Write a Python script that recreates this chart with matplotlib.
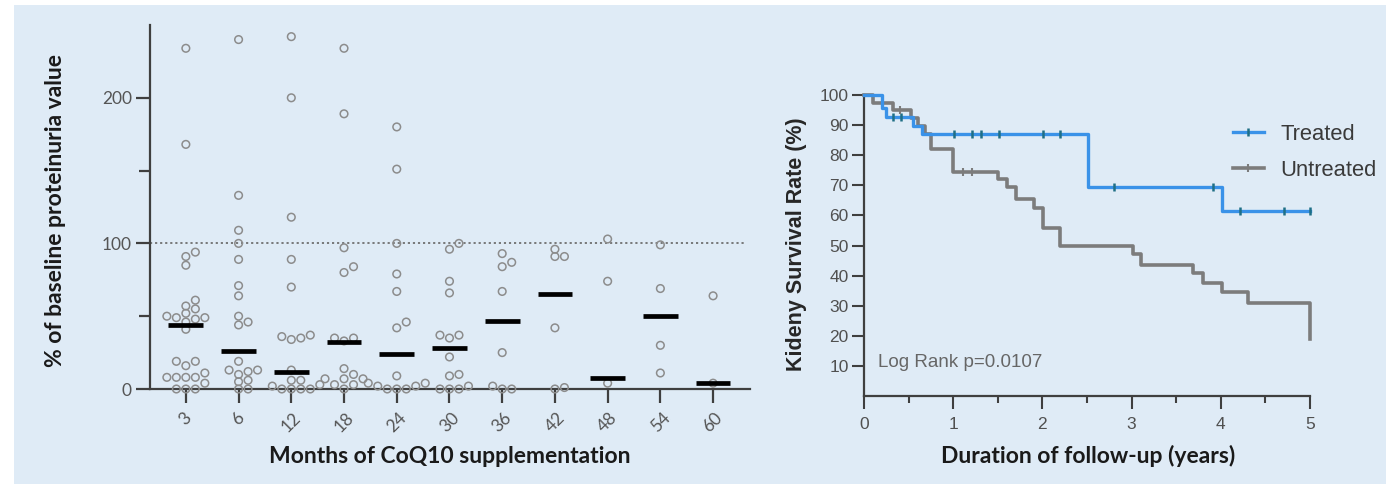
import numpy as np
import matplotlib
matplotlib.use("Agg")
import matplotlib.pyplot as plt
from matplotlib.patches import Rectangle
from matplotlib.lines import Line2D
from matplotlib.ticker import MultipleLocator, FixedLocator

# ---------------- data: proteinuria relative to baseline (%) ----------------
months = ["3", "6", "12", "18", "24", "30", "36", "42", "48", "54", "60"]
m03 = [234, 168, 94, 91, 85, 61, 57, 55, 52, 50, 49, 49, 48, 46, 41, 19, 19, 16, 11, 8, 8, 8, 8, 4, 0, 0, 0]
m06 = [240, 133, 109, 100, 89, 71, 64, 50, 46, 44, 19, 13, 13, 12, 10, 6, 5, 0, 0]
m12 = [242, 200, 118, 89, 70, 37, 36, 35, 34, 13, 6, 6, 3, 2, 0, 0, 0, 0]
m18 = [234, 189, 97, 84, 80, 35, 35, 33, 14, 10, 7, 7, 7, 3, 3, 0]
m24 = [180, 151, 100, 79, 67, 46, 42, 9, 4, 4, 2, 2, 0, 0, 0]
m30 = [100, 96, 74, 66, 37, 37, 35, 22, 10, 9, 2, 0, 0, 0]
m36 = [93, 87, 84, 67, 25, 2, 0, 0]
m42 = [96, 91, 91, 42, 1, 0]
m48 = [103, 74, 4]
m54 = [99, 69, 30, 11]
m60 = [64, 4]
medians = [44, 26, 12, 32, 24, 28, 46.5, 65.5, 7.5, 50, 4.2]

# ---------------- data: kidney survival (Kaplan-Meier) ----------------
t_treated = [0, 0.20, 0.25, 0.55, 0.65, 2.51, 4.01, 5.0]
s_treated = [100, 95.7, 92.6, 89.8, 86.9, 69.5, 61.6, 61.6]
cens_treated = [0.33, 0.41, 1.01, 1.21, 1.31, 1.51, 2.01, 2.20, 2.80, 3.91, 4.21, 4.71, 5.0]

t_untreated = [0, 0.10, 0.33, 0.53, 0.60, 0.68, 0.75, 1.00, 1.50, 1.60, 1.70, 1.91, 2.01,
               2.20, 3.02, 3.11, 3.69, 3.80, 4.01, 4.30, 5.0]
s_untreated = [100, 97.5, 95.0, 92.3, 89.6, 86.9, 82.1, 74.5, 72.0, 69.5, 65.6, 62.5, 55.9,
               49.9, 47.1, 43.5, 40.7, 37.6, 34.6, 30.9, 19.0]
cens_untreated = [0.40, 1.11, 1.21]

# ---------------- styling ----------------
BG = "#dfebf6"
SPINE = "#3f3f3f"
CIRCLE = "#8c8c8c"
BLUE = "#3a92e8"
TEAL = "#1f6f86"
GREY = "#7c7c7c"

fig = plt.figure(figsize=(13.86, 4.84), dpi=100, facecolor="white")
fig.patches.append(Rectangle((14 / 1386, 0), 1 - 14 / 1386, 1 - 5 / 484,
                             transform=fig.transFigure, facecolor=BG,
                             edgecolor="none", zorder=-10))

# =============== left panel: column scatter ===============
ax = fig.add_axes([150 / 1386, 95 / 484, 600 / 1386, 364 / 484])
ax.set_facecolor("none")
ax.set_xlim(-0.68, 10.7)
ax.set_ylim(0, 250)

groups = [m03, m06, m12, m18, m24, m30, m36, m42, m48, m54, m60]


def swarm(ax, xc, values, step_px=9.5, min_dist=7.0):
    """Spread points sideways so open circles do not pile up."""
    vals = np.asarray(values, dtype=float)
    px_x = ax.transData.transform((1, 0))[0] - ax.transData.transform((0, 0))[0]
    y_disp = ax.transData.transform(np.column_stack([np.full(len(vals), xc), vals]))[:, 1]
    order = np.argsort(y_disp)
    placed = []
    offs = np.zeros(len(vals))
    for i in order:
        for k in range(0, 20):
            cands = [0] if k == 0 else [k, -k]
            ok = None
            for c in cands:
                xo = c * step_px
                if all(np.hypot(xo - px, y_disp[i] - py) >= min_dist for px, py in placed):
                    ok = xo
                    break
            if ok is not None:
                placed.append((ok, y_disp[i]))
                offs[i] = ok / px_x
                break
    return xc + offs, vals


for gi, vals in enumerate(groups):
    xs, ys = swarm(ax, gi, vals)
    ax.scatter(xs, ys, s=30, facecolors="none", edgecolors=CIRCLE,
               linewidths=1.1, zorder=3, clip_on=False)

xpos = np.arange(len(months))
ax.hlines(medians, xpos - 0.33, xpos + 0.33, colors="black", linewidth=3.4, zorder=4)
ax.axhline(100, xmin=0, xmax=0.99, color="#6f6f6f", linewidth=1.3,
           linestyle=(0, (1.2, 1.6)), zorder=2)

for s in ["top", "right"]:
    ax.spines[s].set_visible(False)
for s in ["left", "bottom"]:
    ax.spines[s].set_color(SPINE)
    ax.spines[s].set_linewidth(1.6)

ax.set_xticks(xpos)
ax.set_xticklabels(months, rotation=45, ha="center", fontsize=12.5,
                   color="#555555", family="Lato")
ax.yaxis.set_major_locator(FixedLocator([0, 100, 200]))
ax.yaxis.set_minor_locator(FixedLocator([50, 150]))
ax.set_yticklabels(["0", "100", "200"], fontsize=12.5, color="#555555", family="Lato")
ax.tick_params(axis="both", which="major", length=10, width=1.6, color=SPINE, pad=3)
ax.tick_params(axis="y", which="minor", length=8, width=1.6, color=SPINE)
ax.tick_params(axis="x", pad=5)

ax.set_ylabel("% of baseline proteinuria value", fontsize=16.5, fontweight="bold",
              family="Lato", color="#1a1a1a")
ax.yaxis.set_label_coords(-84 / 600, 0.49)
ax.set_xlabel("Months of CoQ10 supplementation", fontsize=16.5, fontweight="bold",
              family="Lato", color="#1a1a1a")
ax.xaxis.set_label_coords(300 / 600, -57 / 364)

# =============== right panel: survival curves ===============
ax2 = fig.add_axes([864 / 1386, 88 / 484, 446 / 1386, 301 / 484])
ax2.set_facecolor("none")
ax2.set_xlim(0, 5)
ax2.set_ylim(0, 100)


def surv_at(t_arr, s_arr, times):
    idx = np.searchsorted(np.asarray(t_arr), np.asarray(times), side="right") - 1
    return np.asarray(s_arr)[idx]


ax2.step(t_treated, s_treated, where="post", color=BLUE, linewidth=2.4, zorder=4,
         clip_on=False)
ax2.step(t_untreated, s_untreated, where="post", color=GREY, linewidth=2.6, zorder=3,
         clip_on=False)
ax2.plot(cens_treated, surv_at(t_treated, s_treated, cens_treated), linestyle="none",
         marker="|", markersize=6, markeredgewidth=1.8, color=TEAL, zorder=5, clip_on=False)
ax2.plot(cens_untreated, surv_at(t_untreated, s_untreated, cens_untreated), linestyle="none",
         marker="|", markersize=6, markeredgewidth=1.5, color=GREY, zorder=5, clip_on=False)

for s in ["top", "right"]:
    ax2.spines[s].set_visible(False)
for s in ["left", "bottom"]:
    ax2.spines[s].set_color(SPINE)
    ax2.spines[s].set_linewidth(1.6)

ax2.xaxis.set_major_locator(MultipleLocator(1))
ax2.xaxis.set_minor_locator(MultipleLocator(0.5))
ax2.yaxis.set_major_locator(FixedLocator(list(range(10, 101, 10))))
ax2.tick_params(axis="both", which="major", length=9, width=1.5, color=SPINE,
                labelsize=12.5, labelcolor="#505050")
ax2.tick_params(axis="x", which="minor", length=5, width=1.5, color=SPINE)
ax2.tick_params(axis="x", pad=6)
ax2.tick_params(axis="y", pad=2)
for lab in ax2.get_xticklabels() + ax2.get_yticklabels():
    lab.set_family("Liberation Sans")

ax2.set_ylabel("Kideny Survival Rate (%)", fontsize=15.5, fontweight="bold",
               family="Liberation Sans", color="#262626")
ax2.yaxis.set_label_coords(-57 / 446, 0.505)
ax2.set_xlabel("Duration of follow-up (years)", fontsize=16.5, fontweight="bold",
               family="Lato", color="#1a1a1a")
ax2.xaxis.set_label_coords(224 / 446, -49 / 301)

ax2.text(0.16, 11.2, "Log Rank p=0.0107", fontsize=13.5, color="#666666",
         family="Liberation Sans", ha="left", va="center")

handles = [Line2D([], [], color=BLUE, linewidth=2.4, marker="|", markersize=6,
                  markeredgewidth=1.8, markeredgecolor=TEAL),
           Line2D([], [], color=GREY, linewidth=2.6, marker="|", markersize=6,
                  markeredgewidth=1.5, markeredgecolor=GREY)]
fig.legend(handles, ["Treated", "Untreated"], loc="center left",
           bbox_to_anchor=(1233 / 1386, (484 - 152.5) / 484), frameon=False,
           handlelength=1.4, handletextpad=0.75, labelspacing=0.68,
           borderpad=0, borderaxespad=0, numpoints=1,
           prop={"family": "Liberation Sans", "size": 15.8}, labelcolor="#3a3a3a")

fig.savefig("out.png", dpi=100, facecolor="white")
